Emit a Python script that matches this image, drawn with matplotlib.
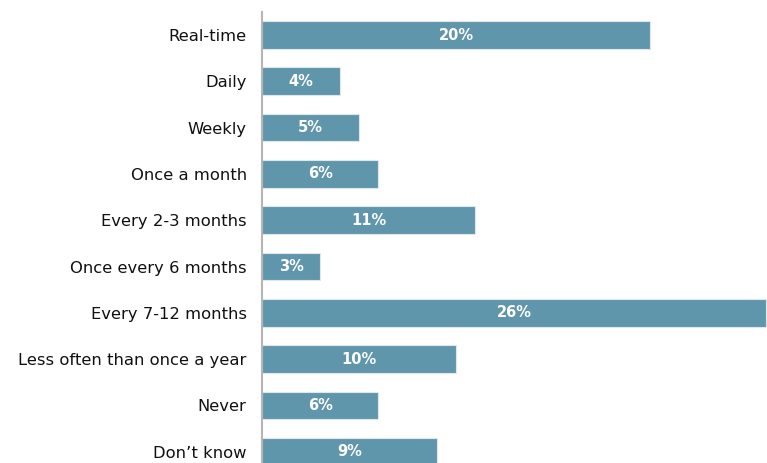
import matplotlib
matplotlib.use('Agg')
import matplotlib.pyplot as plt

# frecuencia de actualizacion
categorias = ['Real-time', 'Daily', 'Weekly', 'Once a month', 'Every 2-3 months',
              'Once every 6 months', 'Every 7-12 months', 'Less often than once a year',
              'Never', 'Don\u2019t know']
porcentajes = [20, 4, 5, 6, 11, 3, 26, 10, 6, 9]

color_barra = '#6096ab'

fig = plt.figure(figsize=(7.67, 4.63), dpi=100)
ax = fig.add_axes([262 / 767, 0, (767 - 262) / 767, 1 - 12 / 463])

y = list(range(len(categorias)))
ax.barh(y, porcentajes, height=0.6, color=color_barra, edgecolor='#dfe7ea', linewidth=0.8)

for i, v in enumerate(porcentajes):
    ax.text(v / 2, i, f'{v}%', ha='center', va='center', color='white',
            fontsize=10.5, fontweight='bold')

ax.set_xlim(0, 26.03)
ax.set_ylim(9.244, -0.497)
ax.set_yticks(y)
ax.set_yticklabels(categorias, fontsize=11.8, color='#111111')
ax.tick_params(axis='y', length=0, pad=11)
ax.set_xticks([])

for lado in ['top', 'right', 'bottom']:
    ax.spines[lado].set_visible(False)
ax.spines['left'].set_color('#b5b5b5')
ax.spines['left'].set_linewidth(1.5)

fig.savefig('out.png', dpi=100)
